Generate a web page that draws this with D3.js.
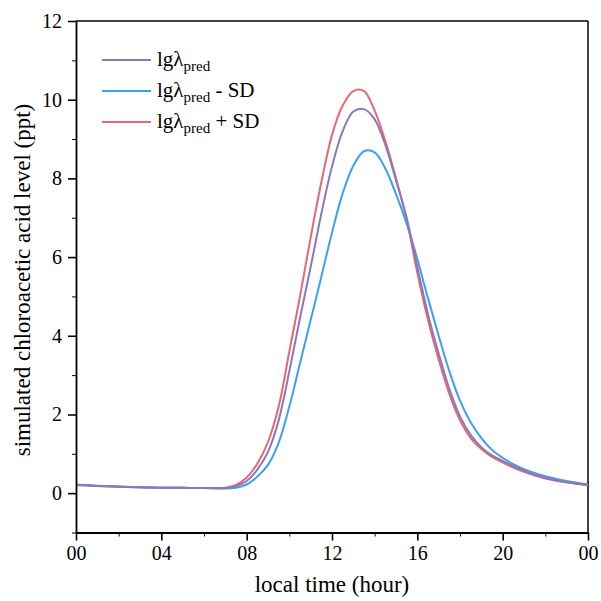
<!DOCTYPE html>
<html>
<head>
<meta charset="utf-8">
<script src="https://cdn.jsdelivr.net/npm/d3@7"></script>
<style>
  html, body { margin: 0; padding: 0; background: #fff; }
  svg { display: block; }
  svg text { font-family: "Liberation Serif", "Times New Roman", Times, serif !important; fill: #000; }
</style>
</head>
<body>
<svg id="chart" width="601" height="601"></svg>
<script>
// ---- data ----
const hours = [0,1,2,3,4,5,6,7,7.5,8,8.5,9,9.5,10,10.5,11,11.5,12,12.5,13,13.5,14,14.5,15,15.5,16,16.5,17,17.5,18,18.5,19,19.5,20,20.5,21,22,23,24];
const meanSeries = [0.21,0.18,0.16,0.15,0.14,0.135,0.13,0.13,0.18,0.31,0.6,1.05,1.85,3.1,4.45,5.75,7.1,8.3,9.2,9.7,9.76,9.5,8.85,7.95,7.0,5.75,4.55,3.55,2.65,1.95,1.48,1.17,0.96,0.82,0.69,0.57,0.39,0.28,0.21];
const minusSeries = [0.22,0.19,0.17,0.15,0.14,0.135,0.13,0.12,0.14,0.22,0.42,0.72,1.28,2.2,3.3,4.4,5.5,6.62,7.62,8.32,8.69,8.66,8.25,7.6,6.85,5.95,4.95,4.0,3.1,2.35,1.8,1.4,1.1,0.9,0.74,0.61,0.43,0.31,0.22];
const plusSeries = [0.21,0.18,0.16,0.15,0.14,0.135,0.13,0.14,0.21,0.4,0.75,1.3,2.2,3.6,5.0,6.5,7.9,9.1,9.85,10.22,10.22,9.72,8.95,8.0,6.95,5.6,4.4,3.4,2.52,1.85,1.4,1.12,0.92,0.78,0.65,0.54,0.37,0.27,0.2];
const seriesNames = ["lgλpred", "lgλpred - SD", "lgλpred + SD"];
const seriesColors = ["#8a78bd", "#3da0ef", "#ea6671"];
const xTickValues = [0,4,8,12,16,20,24];
const xTickLabels = ["00","04","08","12","16","20","00"];
const yTickValues = [0,2,4,6,8,10,12];
const yTickLabels = ["0","2","4","6","8","10","12"];

// ---- layout ----
const FONT = '"Liberation Serif", "Times New Roman", Times, serif';
const svg = d3.select("#chart");
const L = 76, R = 588, T = 21, B = 532.5;
const x = d3.scaleLinear().domain([0,24]).range([L,R]);
const y = d3.scaleLinear().domain([-1,12]).range([B,T]);

// frame (top & right)
svg.append("line").attr("x1",L).attr("x2",R).attr("y1",T).attr("y2",T).attr("stroke","#000").attr("stroke-width",1.5);
svg.append("line").attr("x1",R).attr("x2",R).attr("y1",T).attr("y2",B).attr("stroke","#000").attr("stroke-width",1.5);

// series
const line = d3.line().x((d,i)=>x(hours[i])).y(d=>y(d)).curve(d3.curveCatmullRom.alpha(0.5));
const drawOrder = [2,1,0];
const allSeries = [meanSeries, minusSeries, plusSeries];
drawOrder.forEach(k=>{
  svg.append("path").datum(allSeries[k]).attr("d",line)
    .attr("fill","none").attr("stroke",seriesColors[k]).attr("stroke-width",2);
});

// x axis
const xAxis = svg.append("g").attr("transform",`translate(0,${B})`);
xAxis.append("g").call(d3.axisBottom(x).tickValues(d3.range(2,24,4)).tickSize(4).tickFormat(""))
  .call(g=>g.select(".domain").remove());
xAxis.append("g").call(d3.axisBottom(x).tickValues(xTickValues).tickSize(8).tickSizeOuter(0)
  .tickFormat((d,i)=>xTickLabels[i]).tickPadding(5))
  .call(g=>g.select(".domain").attr("stroke-width",1.8))
  .call(g=>g.selectAll(".tick line").attr("stroke-width",1.6))
  .call(g=>g.selectAll("text").style("font-size","20px"));

// y axis
const yAxis = svg.append("g").attr("transform",`translate(${L},0)`);
yAxis.append("g").call(d3.axisLeft(y).tickValues(d3.range(-1,12,2)).tickSize(4).tickFormat(""))
  .call(g=>g.select(".domain").remove());
yAxis.append("g").call(d3.axisLeft(y).tickValues(yTickValues).tickSize(8).tickSizeOuter(0)
  .tickFormat((d,i)=>yTickLabels[i]).tickPadding(6))
  .call(g=>g.select(".domain").attr("stroke-width",1.8))
  .call(g=>g.selectAll(".tick line").attr("stroke-width",1.6))
  .call(g=>g.selectAll("text").style("font-size","20px"));
svg.selectAll(".tick line").attr("stroke","#000");
svg.selectAll("g").attr("font-family",FONT);

// axis titles
svg.append("text").attr("x",(L+R)/2).attr("y",592).attr("text-anchor","middle")
  .style("font-size","23px").text("local time (hour)");
svg.append("text").attr("transform",`translate(30,280) rotate(-90)`).attr("text-anchor","middle")
  .style("font-size","23px").text("simulated chloroacetic acid level (ppt)");

// legend
const legY = [60, 91, 122];
const legSuffix = ["", " - SD", " + SD"];
[0,1,2].forEach(k=>{
  svg.append("line").attr("x1",102).attr("x2",151).attr("y1",legY[k]).attr("y2",legY[k])
    .attr("stroke",seriesColors[k]).attr("stroke-width",2);
  const t = svg.append("text").attr("x",157).attr("y",legY[k]+6).style("font-size","21px");
  t.append("tspan").text("lgλ");
  t.append("tspan").style("font-size","15px").attr("dy",5).text("pred");
  if (legSuffix[k]) t.append("tspan").attr("dy",-5).text(legSuffix[k]);
});
</script>
</body>
</html>
